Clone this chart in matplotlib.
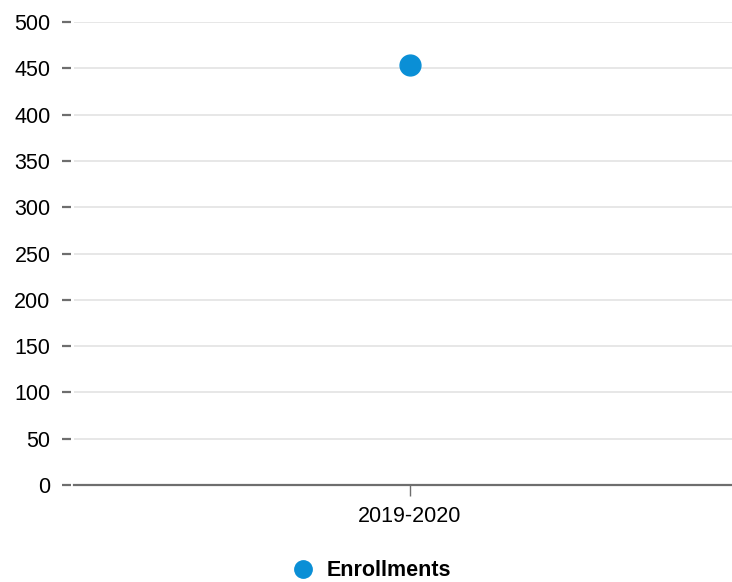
import matplotlib.pyplot as plt
from matplotlib.lines import Line2D

plt.rcParams['font.family'] = ['Liberation Sans', 'DejaVu Sans']

years = ['2019-2020']
enrollments = [454]
yticks = [0, 50, 100, 150, 200, 250, 300, 350, 400, 450, 500]

blue = '#0a8fd6'

fig = plt.figure(figsize=(7.32, 5.82), dpi=100)
ax = fig.add_axes([74 / 732, 97 / 582, 1 - 74 / 732, 463 / 582])

xs = list(range(len(years)))
ax.plot(xs, enrollments, 'o', color=blue, markersize=15, zorder=3, clip_on=False)

ax.set_ylim(0, 500)
ax.set_xlim(-0.51, 0.49)
ax.set_yticks(yticks)
ax.set_xticks(xs)
ax.set_xticklabels(years, fontsize=15.5)

for s in ('top', 'right', 'left'):
    ax.spines[s].set_visible(False)
ax.spines['bottom'].set_color('#6e6e6e')
ax.spines['bottom'].set_linewidth(1.6)

ax.grid(axis='y', color='#e3e3e3', linewidth=1.2)
ax.set_axisbelow(True)

# y ticks: drawn by hand with a small gap from the plot area
ax.tick_params(axis='y', length=0, pad=17, labelsize=15.5)
ax.hlines(yticks, -0.018, -0.005, transform=ax.get_yaxis_transform(),
          color='#6e6e6e', linewidth=1.6, clip_on=False)
ax.tick_params(axis='x', length=8, width=1, color='#6e6e6e', pad=7)

handle = Line2D([], [], marker='o', linestyle='none', color=blue, markersize=12.5)
leg = fig.legend([handle], ['Enrollments'], loc='center', bbox_to_anchor=(366 / 732, 11 / 582),
                 frameon=False, prop={'size': 15.5, 'weight': 'bold'}, handletextpad=0.1)

fig.savefig('out.png', dpi=100)
